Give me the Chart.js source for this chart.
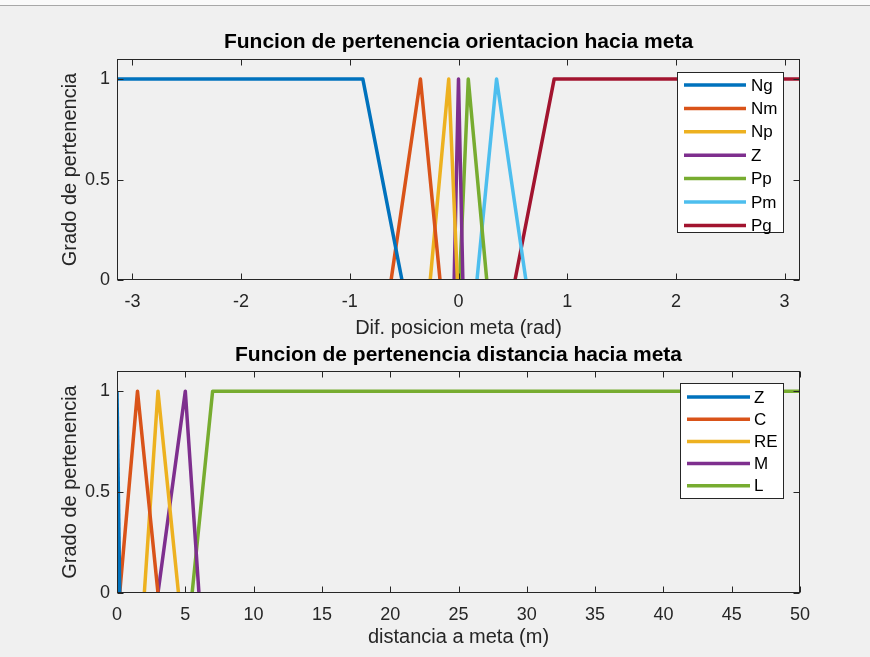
<!DOCTYPE html>
<html>
<head>
<meta charset="utf-8">
<script src="https://cdn.jsdelivr.net/npm/chart.js@4.4.0/dist/chart.umd.min.js"></script>
<style>
  html, body { margin: 0; padding: 0; background: #f0f0f0; }
  #wrap { position: relative; width: 870px; height: 657px; overflow: hidden; background: #f0f0f0; }
  #topbar { position: absolute; left: 0; top: 0; width: 870px; height: 5px; background: #fafafa; border-bottom: 1px solid #a8a8a8; }
  canvas { position: absolute; left: 0; }
</style>
</head>
<body>
<div id="wrap">
  <div id="topbar"></div>
  <canvas id="c1" width="870" height="340" style="top:0px"></canvas>
  <canvas id="c2" width="870" height="317" style="top:340px"></canvas>
</div>
<script>
// --- orientation membership functions (rad) ---
const orientLim = [-3.1416, 3.1416];
const orientTicks = [-3, -2, -1, 0, 1, 2, 3];
const ngX = [-3.1416, -0.88, -0.52]; const ngY = [1, 1, 0];
const nmX = [-0.62, -0.35, -0.17];   const nmY = [0, 1, 0];
const npX = [-0.26, -0.09, -0.01];   const npY = [0, 1, 0];
const zX  = [-0.04, 0, 0.04];        const zY  = [0, 1, 0];
const ppX = [0.01, 0.09, 0.26];      const ppY = [0, 1, 0];
const pmX = [0.17, 0.35, 0.62];      const pmY = [0, 1, 0];
const pgX = [0.52, 0.88, 3.1416];    const pgY = [0, 1, 1];

// --- distance membership functions (m) ---
const distLim = [0, 50];
const distTicks = [0, 5, 10, 15, 20, 25, 30, 35, 40, 45, 50];
const dzX = [0, 0.2];          const dzY = [1, 0];
const dcX = [0.2, 1.5, 3];     const dcY = [0, 1, 0];
const dreX = [2, 3, 4.5];      const dreY = [0, 1, 0];
const dmX = [3, 5, 6];         const dmY = [0, 1, 0];
const dlX = [5.5, 7, 50];      const dlY = [0, 1, 1];

const yTicks = [0, 0.5, 1];
const yLim = [0, 1.1];

const colors = ['#0072BD', '#D95319', '#EDB120', '#7E2F8E', '#77AC30', '#4DBEEE', '#A2142F'];
const FONT = "'Liberation Sans', Arial, sans-serif";
const AX = '#262626';

function pts(xs, ys) { return xs.map((x, i) => ({ x: x, y: ys[i] })); }
function ds(label, xs, ys, i) {
  return { label: label, data: pts(xs, ys), borderColor: colors[i], backgroundColor: colors[i],
           borderWidth: 3.5, borderJoinStyle: 'round', borderCapStyle: 'butt',
           pointRadius: 0, tension: 0, fill: false };
}

// box around plot area with inward tick marks (matlab look) + title centred on axes
const frame = {
  id: 'frame',
  afterDatasetsDraw(chart, args, o) {
    const { ctx, chartArea: a, scales } = chart;
    const L = Math.round(a.left) + 0.5, R = Math.round(a.right) - 0.5;
    const T = Math.round(a.top) + 0.5, B = Math.round(a.bottom) - 0.5;
    ctx.save();
    ctx.strokeStyle = AX; ctx.lineWidth = 1;
    ctx.strokeRect(L, T, R - L, B - T);
    ctx.beginPath();
    scales.x.ticks.forEach(t => {
      const px = Math.round(scales.x.getPixelForValue(t.value)) + 0.5;
      ctx.moveTo(px, B); ctx.lineTo(px, B - 6);
      ctx.moveTo(px, T); ctx.lineTo(px, T + 6);
    });
    scales.y.ticks.forEach(t => {
      const py = Math.round(scales.y.getPixelForValue(t.value)) + 0.5;
      ctx.moveTo(L, py); ctx.lineTo(L + 6, py);
      ctx.moveTo(R, py); ctx.lineTo(R - 6, py);
    });
    ctx.stroke();
    ctx.fillStyle = '#000';
    ctx.font = 'bold 21px ' + FONT;
    ctx.textAlign = 'center';
    ctx.textBaseline = 'middle';
    ctx.fillText(o.title, (a.left + a.right) / 2, o.titleY);
    ctx.restore();
  }
};

// legend box drawn inside the axes
const boxLegend = {
  id: 'boxLegend',
  afterDraw(chart, args, o) {
    const ctx = chart.ctx;
    ctx.save();
    ctx.fillStyle = '#ffffff';
    ctx.fillRect(o.x, o.y, o.w, o.h);
    ctx.strokeStyle = AX; ctx.lineWidth = 1;
    ctx.strokeRect(o.x + 0.5, o.y + 0.5, o.w, o.h);
    ctx.font = '17px ' + FONT;
    ctx.textBaseline = 'middle';
    chart.data.datasets.forEach((d, i) => {
      const y = o.row0 + i * o.step;
      ctx.strokeStyle = d.borderColor; ctx.lineWidth = 3.5;
      ctx.beginPath(); ctx.moveTo(o.l0, y); ctx.lineTo(o.l1, y); ctx.stroke();
      ctx.fillStyle = '#000';
      ctx.fillText(d.label, o.tx, y + 1);
    });
    ctx.restore();
  }
};

function makeChart(id, cfg) {
  return new Chart(document.getElementById(id), {
    type: 'line',
    data: { datasets: cfg.datasets },
    plugins: [frame, boxLegend],
    options: {
      responsive: false,
      animation: false,
      devicePixelRatio: 1,
      layout: { padding: { left: 55, right: 70, top: cfg.areaTop, bottom: 0 } },
      plugins: {
        legend: { display: false },
        tooltip: { enabled: false },
        title: { display: false },
        frame: { title: cfg.title, titleY: cfg.titleY },
        boxLegend: cfg.legend
      },
      scales: {
        x: {
          type: 'linear', min: cfg.xLim[0], max: cfg.xLim[1],
          grid: { display: false, drawTicks: false }, border: { display: false },
          afterBuildTicks: s => { s.ticks = cfg.xTicks.map(v => ({ value: v })); },
          afterFit: s => { s.height = cfg.xH; },
          ticks: { color: AX, padding: 11, maxRotation: 0, autoSkip: false,
                   font: { family: FONT, size: 18 }, callback: v => String(v) },
          title: { display: true, text: cfg.xTitle, color: AX,
                   font: { family: FONT, size: 20 }, padding: { top: 0, bottom: cfg.xTitlePad } }
        },
        y: {
          min: yLim[0], max: yLim[1],
          grid: { display: false, drawTicks: false }, border: { display: false },
          afterBuildTicks: s => { s.ticks = yTicks.map(v => ({ value: v })); },
          afterFit: s => { s.width = 62; },
          ticks: { color: AX, padding: 7, font: { family: FONT, size: 18 }, callback: v => String(v) },
          title: { display: true, text: 'Grado de pertenencia', color: AX,
                   font: { family: FONT, size: 20 }, padding: { top: 3, bottom: 0 } }
        }
      }
    }
  });
}

makeChart('c1', {
  title: 'Funcion de pertenencia orientacion hacia meta', titleY: 42, areaTop: 59,
  xLim: orientLim, xTicks: orientTicks, xH: 60, xTitlePad: 0,
  xTitle: 'Dif. posicion meta (rad)',
  datasets: [
    ds('Ng', ngX, ngY, 0), ds('Nm', nmX, nmY, 1), ds('Np', npX, npY, 2), ds('Z', zX, zY, 3),
    ds('Pp', ppX, ppY, 4), ds('Pm', pmX, pmY, 5), ds('Pg', pgX, pgY, 6)
  ],
  legend: { x: 677, y: 72, w: 106, h: 160, l0: 684, l1: 746, tx: 751, row0: 85, step: 23.4 }
});

makeChart('c2', {
  title: 'Funcion de pertenencia distancia hacia meta', titleY: 15, areaTop: 31,
  xLim: distLim, xTicks: distTicks, xH: 64, xTitlePad: 8,
  xTitle: 'distancia a meta (m)',
  datasets: [
    ds('Z', dzX, dzY, 0), ds('C', dcX, dcY, 1), ds('RE', dreX, dreY, 2),
    ds('M', dmX, dmY, 3), ds('L', dlX, dlY, 4)
  ],
  legend: { x: 680, y: 43, w: 103, h: 115, l0: 687, l1: 750, tx: 754, row0: 57, step: 22.2 }
});
</script>
</body>
</html>
